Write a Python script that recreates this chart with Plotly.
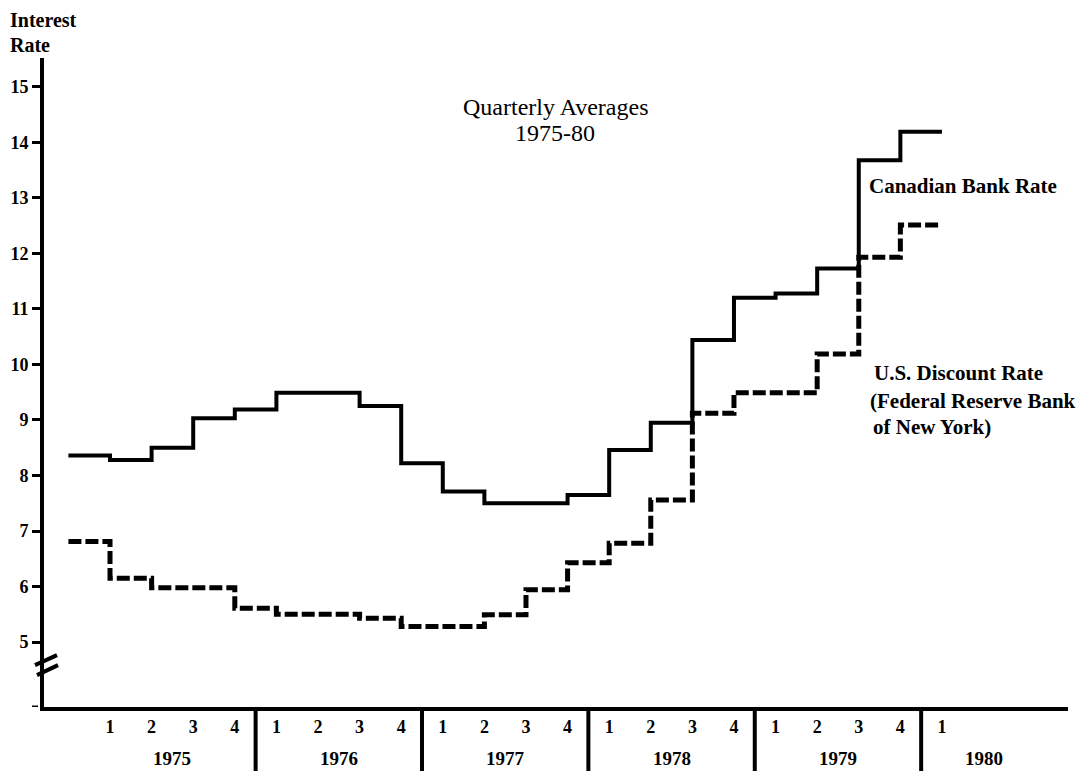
import plotly.graph_objects as go

# quarterly averages, 1975 Q1 .. 1980 Q1
quarters = [f"{y} Q{q}" for y in range(1975, 1980) for q in range(1, 5)] + ["1980 Q1"]
canadian_rate = [8.36, 8.28, 8.50, 9.03, 9.19, 9.49, 9.49, 9.25, 8.22, 7.71, 7.50,
                 7.50, 7.65, 8.46, 8.95, 10.44, 11.20, 11.28, 11.73, 13.68, 14.19]
us_discount_rate = [6.81, 6.15, 5.98, 5.98, 5.61, 5.50, 5.50, 5.43, 5.28, 5.28, 5.49,
                    5.94, 6.43, 6.78, 7.56, 9.12, 9.49, 9.49, 10.19, 11.93, 12.51]
quarter_ticks = ["1", "2", "3", "4"] * 5 + ["1"]
years = ["1975", "1976", "1977", "1978", "1979", "1980"]
y_ticks = list(range(5, 16))

SERIF = "Liberation Serif"
X_MIN, X_MAX = -0.587, 24.03
Y_MIN, Y_MAX = 3.83, 15.52

# each quarter's value runs from the previous quarter mark to its own mark
xs = list(range(len(quarters) + 1))
fig = go.Figure()
fig.add_trace(go.Scatter(x=xs, y=canadian_rate + [canadian_rate[-1]], mode="lines",
                         line=dict(color="black", width=4, shape="hv"),
                         name="Canadian Bank Rate"))
fig.add_trace(go.Scatter(x=xs, y=us_discount_rate + [us_discount_rate[-1]], mode="lines",
                         line=dict(color="black", width=5, shape="hv", dash="13px,4px"),
                         name="U.S. Discount Rate"))

# year separators below the axis
for k in range(5):
    fig.add_shape(type="line", xref="x", yref="paper", x0=4.5 + 4 * k, x1=4.5 + 4 * k,
                  y0=0, y1=-0.12, line=dict(color="black", width=4))

# axis break marks and origin tick
fig.add_shape(type="line", xref="paper", yref="y", xsizemode="pixel", ysizemode="pixel",
              xanchor=0, yanchor=4.585, x0=-9, x1=13, y0=0, y1=10,
              line=dict(color="black", width=4))
fig.add_shape(type="line", xref="paper", yref="y", xsizemode="pixel", ysizemode="pixel",
              xanchor=0, yanchor=4.585, x0=-7, x1=14, y0=-10, y1=0,
              line=dict(color="black", width=4))
fig.add_shape(type="line", xref="paper", yref="y", xsizemode="pixel",
              xanchor=0, x0=-12, x1=-6, y0=Y_MIN, y1=Y_MIN,
              line=dict(color="black", width=3))

for i, yr in enumerate(years):
    xc = 2.5 + 4 * i if i < 5 else 22
    fig.add_annotation(x=xc, y=-0.080, xref="x", yref="paper", text=f"<b>{yr}</b>",
                       showarrow=False, yanchor="middle",
                       font=dict(family=SERIF, size=19, color="black"))

txt = dict(family=SERIF, size=21, color="black")
fig.add_annotation(x=11.7, y=14.64, text="Quarterly Averages", showarrow=False,
                   font=dict(family=SERIF, size=24, color="black"))
fig.add_annotation(x=11.7, y=14.17, text="1975-80", showarrow=False,
                   font=dict(family=SERIF, size=24, color="black"))
fig.add_annotation(x=19.2, y=13.22, text="<b>Canadian Bank Rate</b>", showarrow=False,
                   xanchor="left", font=txt)
fig.add_annotation(x=19.32, y=9.85, text="<b>U.S. Discount Rate</b>", showarrow=False,
                   xanchor="left", font=txt)
fig.add_annotation(x=19.22, y=9.34, text="<b>(Federal Reserve Bank</b>", showarrow=False,
                   xanchor="left", font=txt)
fig.add_annotation(x=19.3, y=8.87, text="<b>of New York)</b>", showarrow=False,
                   xanchor="left", font=txt)
fig.add_annotation(x=-0.035, y=1.0586, xref="paper", yref="paper", text="<b>Interest</b>",
                   showarrow=False, xanchor="left", yanchor="middle",
                   font=dict(family=SERIF, size=20, color="black"))
fig.add_annotation(x=-0.035, y=1.02, xref="paper", yref="paper", text="<b>Rate</b>",
                   showarrow=False, xanchor="left", yanchor="middle",
                   font=dict(family=SERIF, size=20, color="black"))

# page body has an 8px margin, so the figure is sized to end at the window edge
fig.update_layout(
    width=1078, height=763, showlegend=False,
    paper_bgcolor="white", plot_bgcolor="white",
    margin=dict(l=36, r=18, t=50, b=64, autoexpand=False),
    xaxis=dict(range=[X_MIN, X_MAX], tickvals=list(range(1, len(quarters) + 1)),
               ticktext=[f"<b>{t}</b>" for t in quarter_ticks], showgrid=False, zeroline=False,
               showline=True, linecolor="black", linewidth=4, ticks="", automargin=False,
               tickfont=dict(family=SERIF, size=18, color="black")),
    yaxis=dict(range=[Y_MIN, Y_MAX], tickvals=y_ticks, ticktext=[f"<b>{v}</b>" for v in y_ticks],
               showgrid=False, zeroline=False, showline=True, linecolor="black",
               linewidth=4, ticks="outside", ticklen=8, tickwidth=3, tickcolor="black",
               automargin=False, tickfont=dict(family=SERIF, size=18, color="black")),
)

fig.write_html("out.html")
